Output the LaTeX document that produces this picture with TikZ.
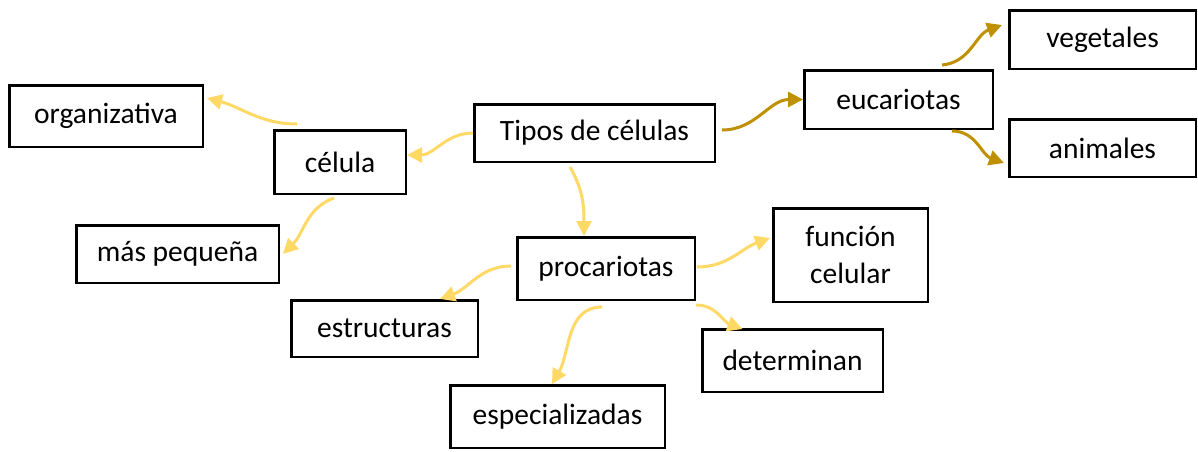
\documentclass[tikz,border=0pt]{standalone}
\usepackage{fontspec}
\setmainfont{Carlito}
\usetikzlibrary{arrows.meta}
\definecolor{gold}{HTML}{BF9000}
\definecolor{lightgold}{HTML}{FFD966}
\tikzset{
  box/.style={draw=black, line width=2.5pt, inner sep=0pt, align=center,
    font=\fontsize{29.5}{37}\selectfont},
  darkarrow/.style={draw=gold, line width=3pt, -{Triangle[length=15pt,width=15pt]}},
  lightarrow/.style={draw=lightgold, line width=3pt, -{Triangle[length=15pt,width=15pt]}}
}
\begin{document}
\begin{tikzpicture}[x=1pt,y=-1pt]
\useasboundingbox (0,0) rectangle (1198,451);
\node[box, minimum width=193.5pt, minimum height=61.5pt] (org) at (106,116) {organizativa};
\node[box, minimum width=131.5pt, minimum height=63.5pt] (cel) at (340,162) {célula};
\node[box, minimum width=202.5pt, minimum height=57.5pt] (mas) at (177.5,254) {más pequeña};
\node[box, minimum width=240.5pt, minimum height=57.5pt] (tipos) at (594.5,133) {Tipos de células};
\node[box, minimum width=188.5pt, minimum height=58.5pt] (euc) at (898.5,99.5) {eucariotas};
\node[box, minimum width=186.5pt, minimum height=58.5pt] (veg) at (1102.5,39.5) {vegetales};
\node[box, minimum width=186.5pt, minimum height=57.5pt] (ani) at (1102.5,148) {animales};
\node[box, minimum width=177.5pt, minimum height=62.5pt] (pro) at (606,268.5) {procariotas};
\node[box, minimum width=154.5pt, minimum height=93.5pt] (fun) at (850.5,255) {función\\celular};
\node[box, minimum width=180.5pt, minimum height=62.5pt] (det) at (792.5,360.5) {determinan};
\node[box, minimum width=214.5pt, minimum height=62.5pt] (esp) at (557.5,416.5) {especializadas};
\node[box, minimum width=186.5pt, minimum height=56.5pt] (est) at (384.5,328.5) {estructuras};

% dark connectors
\draw[darkarrow] ([xshift=6pt,yshift=3pt]tipos.east) to[out=0,in=180] (euc.west);
\draw[darkarrow] ([xshift=43.5pt,yshift=4pt]euc.north) to[out=5,in=200] ([xshift=-6pt,yshift=14.5pt]veg.west);
\draw[darkarrow] ([xshift=53.5pt,yshift=-1pt]euc.south) to[out=0,in=160] ([xshift=-4pt,yshift=-15pt]ani.west);

% light connectors
\draw[lightarrow] (tipos.west) to[out=180,in=0] ([yshift=7pt]cel.east);
\draw[lightarrow] ([xshift=-43pt,yshift=5pt]cel.north) to[out=180,in=-15] ([xshift=3pt,yshift=18pt]org.east);
\draw[lightarrow] ([xshift=-6pt,yshift=-3pt]cel.south) to[out=200,in=45] ([xshift=3pt]mas.east);
\draw[lightarrow] ([xshift=-24.5pt,yshift=-4pt]tipos.south) to[out=-60,in=90] ([xshift=-22pt]pro.north);
\draw[lightarrow] ([xshift=-5pt,yshift=2.5pt]pro.west) to[out=180,in=20] ([xshift=55.5pt]est.north);
\draw[lightarrow] ([xshift=1pt,yshift=1.5pt]pro.east) to[out=0,in=200] ([xshift=-2pt,yshift=17pt]fun.west);
\draw[lightarrow] ([yshift=-4pt]pro.south east) to[out=0,in=160] ([xshift=-50pt,yshift=-1pt]det.north);
\draw[lightarrow] ([xshift=-4pt,yshift=-6pt]pro.south) to[out=180,in=60] ([xshift=-5.5pt]esp.north);
\end{tikzpicture}
\end{document}
